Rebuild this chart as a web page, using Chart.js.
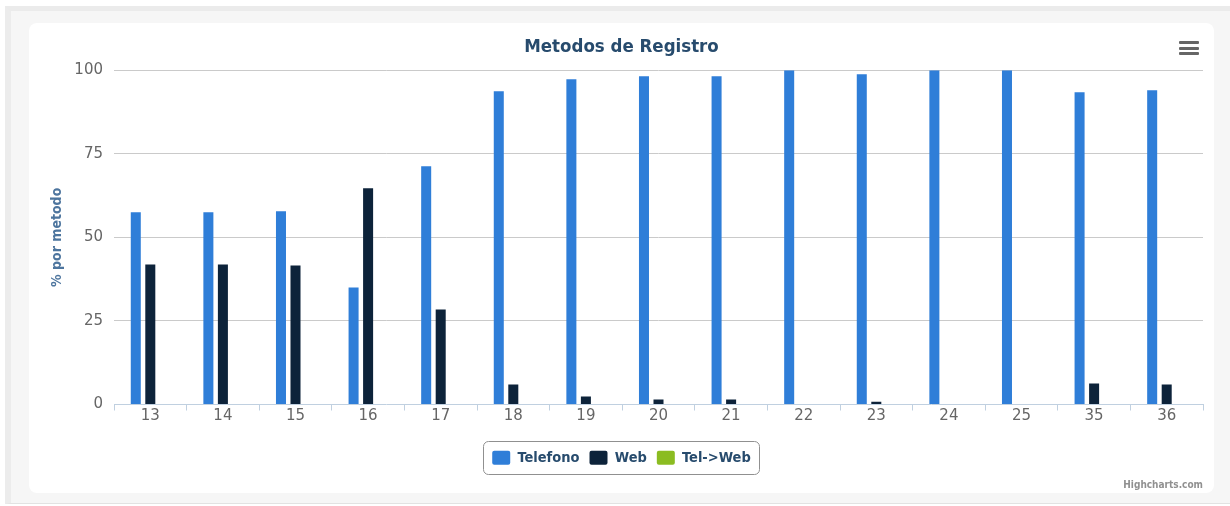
<!DOCTYPE html>
<html>
<head>
<meta charset="utf-8">
<script src="https://cdn.jsdelivr.net/npm/chart.js@4/dist/chart.umd.min.js"></script>
<style>
  html, body { margin: 0; padding: 0; background: #fff; width: 1230px; height: 506px; overflow: hidden; }
  #frame {
    position: absolute; left: 5px; top: 6px; width: 1240px; height: 492px;
    background: #f6f6f6; border-top: 5px solid #ebebeb; border-left: 6px solid #ececec;
    border-bottom: 1px solid #e2e2e2;
  }
  #card {
    position: absolute; left: 29px; top: 23px; width: 1185px; height: 470px;
    background: #fff; border-radius: 8px; overflow: hidden;
  }
  #menu { position: absolute; left: 1150px; top: 18px; width: 20px; }
  #menu div { height: 3px; background: #666; border-radius: 1px; margin-bottom: 2.5px; }
  #credits {
    position: absolute; right: 11px; top: 456px;
    font: bold 10px "DejaVu Sans Condensed", "DejaVu Sans", sans-serif; color: #909090;
  }
</style>
</head>
<body>
<div id="frame"></div>
<div id="card">
  <canvas id="chart" width="1185" height="470"></canvas>
  <div id="menu"><div></div><div></div><div></div></div>
  <div id="credits">Highcharts.com</div>
</div>
<script>
// semanas
const categories = ["13", "14", "15", "16", "17", "18", "19", "20", "21", "22", "23", "24", "25", "35", "36"];
const telefono = [57.5, 57.5, 57.8, 35.0, 71.3, 93.7, 97.3, 98.2, 98.2, 100, 98.8, 100, 100, 93.4, 94.0];
const web = [41.9, 41.9, 41.6, 64.7, 28.4, 6.0, 2.4, 1.5, 1.5, 0, 0.8, 0, 0, 6.3, 6.0];
const telWeb = [0, 0, 0, 0, 0, 0, 0, 0, 0, 0, 0, 0, 0, 0, 0];
const yTicks = [0, 25, 50, 75, 100];

const condBold = "'DejaVu Sans Condensed', 'DejaVu Sans', sans-serif";

// Borde del legend (estilo highcharts)
const legendBorder = {
  id: "legendBorder",
  afterDraw(chart) {
    let boxes = chart.legend.legendHitBoxes;
    if (!boxes || !boxes.length) return;
    let minX = Math.min(...boxes.map(b => b.left));
    let maxX = Math.max(...boxes.map(b => b.left + b.width));
    let minY = Math.min(...boxes.map(b => b.top));
    let ctx = chart.ctx;
    ctx.save();
    ctx.strokeStyle = "#909090";
    ctx.lineWidth = 1;
    ctx.beginPath();
    ctx.roundRect(Math.round(minX - 9) + 0.5, Math.round(minY - 10) + 0.5, Math.round(maxX - minX + 17), 33, 5);
    ctx.stroke();
    ctx.restore();
  }
};

chart = new Chart("chart", {
  type: "bar",
  data: {
    labels: categories,
    datasets: [
      { label: "Telefono", data: telefono, backgroundColor: "#2f7ed8" },
      { label: "Web", data: web, backgroundColor: "#0d233a" },
      { label: "Tel->Web", data: telWeb, backgroundColor: "#8bbc21" }
    ]
  },
  options: {
    responsive: false,
    animation: false,
    categoryPercentage: 0.6,
    barPercentage: 0.69,
    layout: { padding: { left: 11, right: 11, top: 0, bottom: 18 } },
    plugins: {
      tooltip: { enabled: false },
      title: {
        display: true,
        text: "Metodos de Registro",
        color: "#274b6d",
        font: { family: condBold, size: 18.5, weight: "bold" },
        padding: { top: 13, bottom: 12 }
      },
      legend: {
        position: "bottom",
        labels: {
          color: "#274b6d",
          font: { family: condBold, size: 14.5, weight: "bold" },
          boxWidth: 18,
          boxHeight: 14,
          padding: 10,
          useBorderRadius: true,
          borderRadius: 2
        }
      }
    },
    scales: {
      x: {
        grid: {
          offset: true,
          drawOnChartArea: false,
          tickLength: 6,
          color: "#C0D0E0"
        },
        border: { color: "#C0D0E0" },
        ticks: {
          color: "#666",
          font: { family: "'DejaVu Sans', sans-serif", size: 15 },
          padding: -3,
          maxRotation: 0
        },
        afterFit(scale) { scale.height = 36; }
      },
      y: {
        min: 0,
        max: 100,
        afterBuildTicks(scale) { scale.ticks = yTicks.map(v => ({ value: v })); },
        grid: {
          drawTicks: false,
          color: ctx => ctx.tick && ctx.tick.value === 0 ? "rgba(0,0,0,0)" : "#cacaca"
        },
        border: { display: false },
        ticks: {
          color: "#666",
          font: { family: "'DejaVu Sans', sans-serif", size: 15 },
          padding: 11
        },
        title: {
          display: true,
          text: "% por metodo",
          color: "#4d759e",
          font: { family: condBold, size: 14, weight: "bold" },
          padding: { top: 9, bottom: 0 }
        },
        afterFit(scale) { scale.width = 74; }
      }
    }
  },
  plugins: [legendBorder]
});
</script>
</body>
</html>
